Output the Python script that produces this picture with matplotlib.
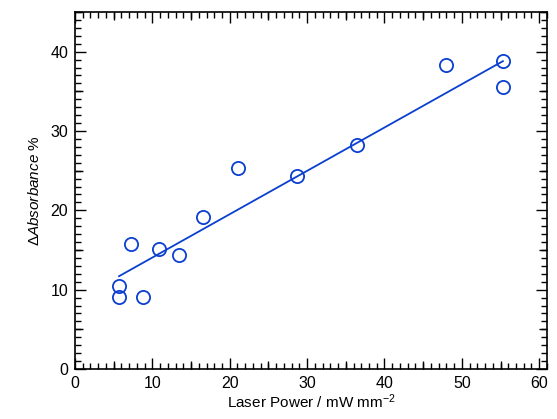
import numpy as np
import matplotlib
matplotlib.use("Agg")
import matplotlib.pyplot as plt
from matplotlib.ticker import MultipleLocator, FixedLocator, NullFormatter

plt.rcParams['font.family'] = ['Liberation Sans', 'DejaVu Sans']
plt.rcParams['mathtext.fontset'] = 'custom'
plt.rcParams['mathtext.rm'] = 'Liberation Sans'
plt.rcParams['mathtext.it'] = 'Liberation Sans:italic'

# measured points
power = [5.7, 5.7, 7.2, 8.8, 10.8, 13.4, 16.6, 21.1, 28.7, 36.5, 48.0, 55.3, 55.3]
absorb = [10.5, 9.1, 15.8, 9.1, 15.1, 14.4, 19.1, 25.3, 24.3, 28.2, 38.3, 38.8, 35.6]

# fitted line end points
fit_x = [5.7, 55.3]
fit_y = [11.7, 38.8]

blue = "#0a3fd0"

fig = plt.figure(figsize=(5.57, 4.19), dpi=100)
ax = fig.add_axes([0.1346, 0.1193, 0.8474, 0.8521])

ax.plot(fit_x, fit_y, color=blue, lw=1.3)
ax.plot(power, absorb, "o", mfc="none", mec=blue, mew=1.3, ms=9.5)

ax.set_xlim(0, 61)
ax.set_ylim(0, 45)
ax.xaxis.set_major_locator(MultipleLocator(10))
ax.yaxis.set_major_locator(MultipleLocator(10))
ax.xaxis.set_minor_locator(MultipleLocator(1))
ax.yaxis.set_minor_locator(MultipleLocator(1))
ax.tick_params(which="both", direction="in", top=True, right=True, width=1.0,
               labelsize=11.5, colors="black")
ax.tick_params(which="major", length=8, pad=5)
ax.tick_params(which="minor", length=4)
for s in ax.spines.values():
    s.set_linewidth(1.2)

# medium ticks every 5 on all four sides
for loc in ("bottom", "top"):
    sec = ax.secondary_xaxis(loc)
    sec.set_xticks([5, 15, 25, 35, 45, 55])
    sec.xaxis.set_major_formatter(NullFormatter())
    sec.tick_params(direction="in", length=6, width=1.0)
    sec.spines[loc].set_visible(False)
for loc in ("left", "right"):
    sec = ax.secondary_yaxis(loc)
    sec.set_yticks([5, 15, 25, 35, 45])
    sec.yaxis.set_major_formatter(NullFormatter())
    sec.tick_params(direction="in", length=6, width=1.0)
    sec.spines[loc].set_visible(False)

ax.set_xlabel(r"Laser Power / mW mm$^{-2}$", fontsize=11, labelpad=1)
ax.set_ylabel(r"$\mathit{\Delta Absorbance}$ %", fontsize=11, labelpad=6)

fig.savefig("out.png", dpi=100)
